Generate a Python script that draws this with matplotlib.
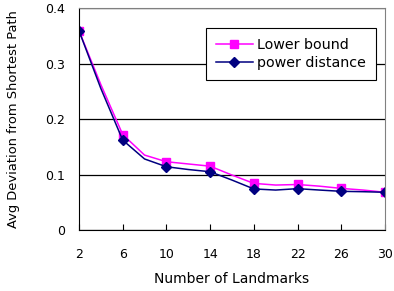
import matplotlib
matplotlib.use("Agg")
import matplotlib.pyplot as plt

landmarks = [2, 4, 6, 8, 10, 12, 14, 16, 18, 20, 22, 24, 26, 28, 30]
lower_bound = [0.359, 0.262, 0.172, 0.135, 0.123, 0.119, 0.115, 0.099, 0.084, 0.081, 0.082, 0.079, 0.075, 0.072, 0.068]
power_distance = [0.359, 0.255, 0.162, 0.128, 0.114, 0.109, 0.105, 0.090, 0.074, 0.072, 0.0745, 0.072, 0.0697, 0.069, 0.068]
xticks = [2, 6, 10, 14, 18, 22, 26, 30]
yticks = [0, 0.1, 0.2, 0.3, 0.4]

plt.rcParams['font.family'] = ['DejaVu Sans']

fig = plt.figure(figsize=(3.94, 2.91), dpi=100)
ax = fig.add_axes([0.2005, 0.2096, 0.7765, 0.7629])

ax.plot(landmarks, lower_bound, color='#ff00ff', lw=1.1, marker='s', ms=5.5,
        markevery=2, label='Lower bound')
ax.plot(landmarks, power_distance, color='#000080', lw=1.1, marker='D', ms=5,
        markevery=2, label='power distance')

ax.set_xlim(2, 30)
ax.set_ylim(0, 0.4)
ax.set_xticks(xticks)
ax.set_xticklabels([str(t) for t in xticks])
ax.set_yticks(yticks)
ax.set_yticklabels(['0', '0.1', '0.2', '0.3', '0.4'])
ax.grid(axis='y', color='black', lw=0.9)
ax.set_axisbelow(True)

for side in ['top', 'right']:
    ax.spines[side].set_color('#808080')
for side in ['left', 'bottom']:
    ax.spines[side].set_color('black')

ax.tick_params(axis='x', direction='in', length=4, pad=13, labelsize=9)
ax.tick_params(axis='y', length=0, pad=10, labelsize=9)

ax.set_xlabel('Number of Landmarks', fontsize=10)
ax.set_ylabel('Avg Deviation from Shortest Path', fontsize=9.4)
ax.xaxis.set_label_coords(0.5, -0.19)
ax.yaxis.set_label_coords(-0.1925, 0.5)

leg = ax.legend(loc='upper right', bbox_to_anchor=(0.971, 0.91), fontsize=10.3,
                borderaxespad=0, fancybox=False, framealpha=1, edgecolor='black',
                handlelength=2.6, handletextpad=0.3, borderpad=0.7,
                labelspacing=0.3)
leg.get_frame().set_linewidth(0.8)

fig.savefig('out.png', dpi=100)
